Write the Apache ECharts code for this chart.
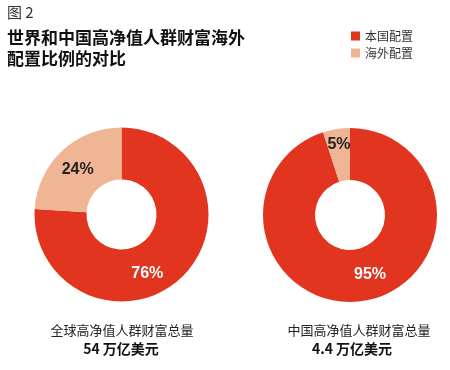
<!DOCTYPE html>
<html><head><meta charset="utf-8">
<script src="https://cdn.jsdelivr.net/npm/echarts@6/dist/echarts.min.js"></script>
<style>html,body{margin:0;padding:0;background:#fff}#c{width:450px;height:370px}</style>
</head><body><div id="c"></div>
<script>
const categories = ['本国配置', '海外配置'];
const worldValues = [76, 24];
const chinaValues = [95, 5];
const chartTitles = ['全球高净值人群财富总量', '中国高净值人群财富总量'];
const totals = ['54 万亿美元', '4.4 万亿美元'];
const colors = ['#e1351f', '#f0b594'];
const FONT = '"Noto Sans CJK SC", "Noto Sans", sans-serif';

function pieData(values, offsets) {
  return categories.map((name, i) => ({
    name, value: values[i],
    itemStyle: { color: colors[i] },
    label: {
      color: i === 0 ? '#fff' : '#222',
      offset: offsets[i]
    }
  }));
}

const chart = echarts.init(document.getElementById('c'));
chart.setOption({
  animation: false,
  backgroundColor: '#fff',
  legend: {
    orient: 'vertical', left: 346, top: 25,
    icon: 'rect', itemWidth: 9, itemHeight: 9, itemGap: 5,
    data: categories,
    textStyle: { fontFamily: FONT, fontSize: 12, color: '#333' }
  },
  graphic: [
    { type: 'text', left: 7, top: 5, style: { text: '图 2', font: '15px ' + FONT, fill: '#333' } },
    { type: 'text', left: 7, top: 27, style: { text: '世界和中国高净值人群财富海外\n配置比例的对比', font: 'bold 17px ' + FONT, fill: '#111', lineHeight: 21 } },
    { type: 'text', x: 122, y: 330, style: { text: chartTitles[0], font: '13px ' + FONT, fill: '#222', align: 'center', verticalAlign: 'middle' } },
    { type: 'text', x: 121, y: 349, style: { text: totals[0], font: 'bold 14px ' + FONT, fill: '#111', align: 'center', verticalAlign: 'middle' } },
    { type: 'text', x: 359, y: 330, style: { text: chartTitles[1], font: '13px ' + FONT, fill: '#222', align: 'center', verticalAlign: 'middle' } },
    { type: 'text', x: 352, y: 349, style: { text: totals[1], font: 'bold 14px ' + FONT, fill: '#111', align: 'center', verticalAlign: 'middle' } }
  ],
  series: [
    {
      type: 'pie', center: [121.5, 214.5], radius: [35, 87], startAngle: 90, clockwise: true,
      silent: true,
      label: { show: true, position: 'inside', formatter: '{c}%', fontFamily: 'Arial, "Liberation Sans", sans-serif', fontSize: 16, fontWeight: 'bold' },
      labelLine: { show: false },
      data: pieData(worldValues, [[-18, 12], [0, 2]])
    },
    {
      type: 'pie', center: [350, 215], radius: [35, 87], startAngle: 90, clockwise: true,
      silent: true,
      label: { show: true, position: 'inside', formatter: '{c}%', fontFamily: 'Arial, "Liberation Sans", sans-serif', fontSize: 16, fontWeight: 'bold' },
      labelLine: { show: false },
      data: pieData(chinaValues, [[10, -4], [-1, -7]])
    }
  ]
});
</script></body></html>
